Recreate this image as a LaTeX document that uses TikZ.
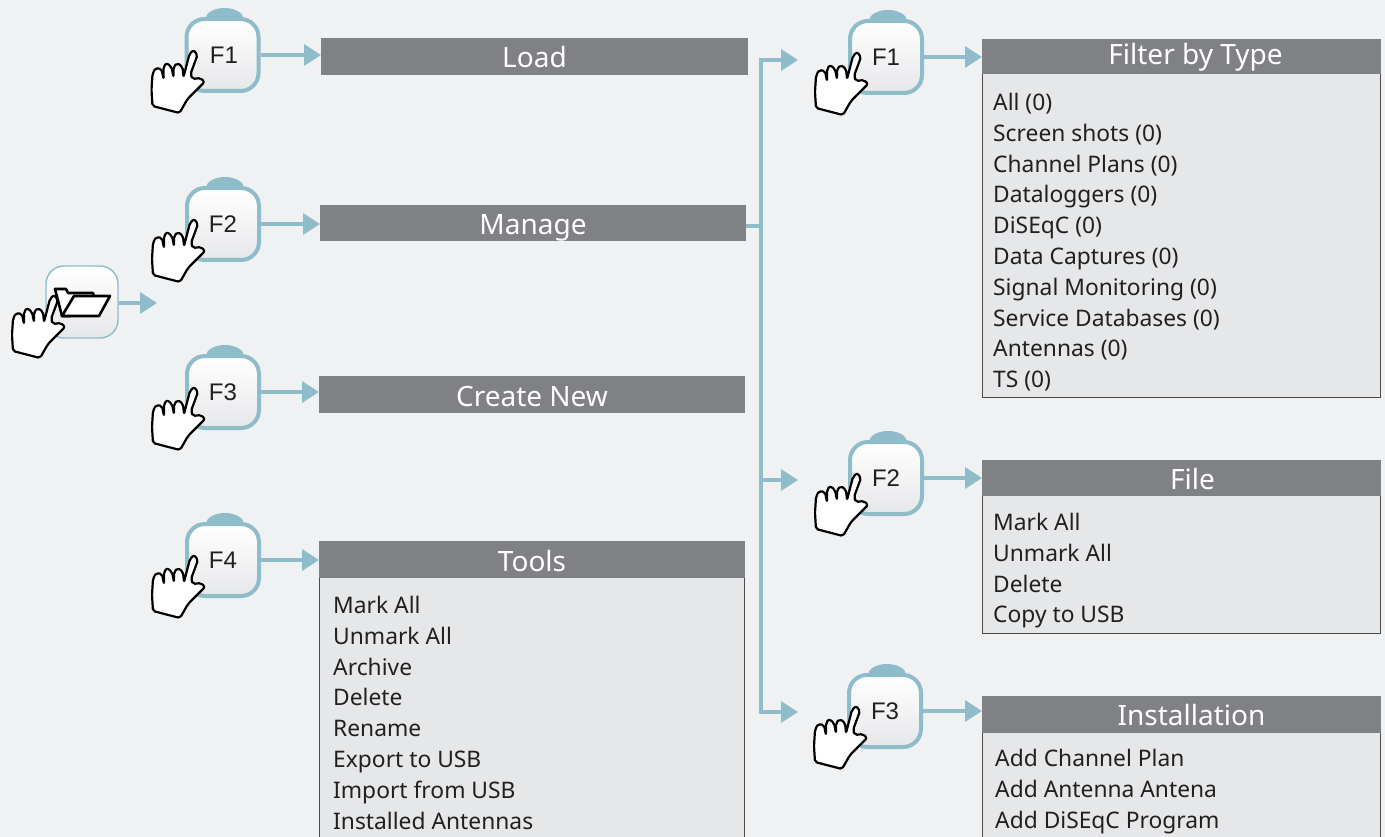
\documentclass[tikz,border=0pt]{standalone}
\usepackage{fontspec}
\setmainfont{Noto Sans}
\newfontfamily\keyfont{Liberation Sans}
\usetikzlibrary{arrows.meta}
\definecolor{flowc}{HTML}{8FBCCB}
\definecolor{pagec}{HTML}{F0F1F3}
\definecolor{barc}{HTML}{808184}
\definecolor{bodyc}{HTML}{E6E7E9}
\definecolor{inkc}{HTML}{231F20}
\tikzset{
  fkey/.style={draw=flowc, line width=4pt, rounded corners=18pt, top color=white, bottom color=bodyc,
    minimum width=72pt, minimum height=72pt, inner sep=0pt, text=inkc, font=\keyfont\fontsize{24}{26}\selectfont},
  flow/.style={draw=flowc, line width=3.5pt},
  flowtip/.style={flow, -{Triangle[length=17pt,width=21pt]}},
  headbar/.style={fill=barc, anchor=north west, inner sep=0pt, outer sep=0pt, text=white,
    text height=23pt, text depth=0pt, font=\fontsize{28}{30}\selectfont},
  listbody/.style={draw=black!70, line width=0.9pt, fill=bodyc, anchor=north west, inner sep=0pt, outer sep=0pt},
  listtext/.style={anchor=north west, inner sep=0pt, align=left, text=inkc,
    font=\fontsize{22.8}{30.8}\selectfont},
  hand/.pic={
    \draw[fill=white, draw=black, line width=2.2pt, line join=round, rounded corners=2pt]
      (-40,54) -- (-13,61) -- (-5,47) -- (5,37) -- (12,30) -- (8,26) -- (0,27) -- (-2,22) -- (5,3)
      -- (1,-2) -- (-3,2) -- (-9,25) -- (-10,15) -- (-15,11) -- (-19,15) -- (-19,25) -- (-21,15)
      -- (-26,11) -- (-29,15) -- (-29,27) -- (-31,17) -- (-37,16) -- (-40,22) -- (-41,38) -- cycle;
  }
}
\newcommand{\fkeyat}[4]{
  \fill[flowc] (#2,#3) ++(2,-36) ellipse [x radius=19pt, y radius=11pt];
  \node[fkey] (#1) at (#2,#3) {#4};
  \pic at ([xshift=8pt,yshift=3pt]#1.west) {hand};
}
\begin{document}
\begin{tikzpicture}[x=1pt,y=-1pt]
\useasboundingbox (0,0) rectangle (1385,837);
\clip (0,0) rectangle (1385,837);
\fill[pagec] (0,0) rectangle (1385,837);

% left column bars
\node[headbar, minimum width=427pt, minimum height=37pt] (loadBar) at (321,38) {Load};
\node[headbar, minimum width=426pt, minimum height=36pt] (manageBar) at (320,205) {Manage};
\node[headbar, minimum width=426pt, minimum height=37pt] (createBar) at (319,376) {Create New};
\node[listbody, minimum width=425pt, minimum height=310pt] (toolsBody) at (319.5,570) {};
\node[headbar, minimum width=426pt, minimum height=37pt] (toolsBar) at (319,541) {Tools};
\node[listtext] (toolsList) at (333,596) {Mark All\\Unmark All\\Archive\\Delete\\Rename\\Export to USB\\Import from USB\\Installed Antennas};

% right column bars
\node[listbody, minimum width=398pt, minimum height=327pt] (filterBody) at (982.5,70) {};
\node[headbar, minimum width=399pt, minimum height=35pt, text height=17pt] (filterBar) at (982,39) {\hspace*{28pt}Filter by Type};
\node[listtext] (filterList) at (993,93) {All (0)\\Screen shots (0)\\Channel Plans (0)\\Dataloggers (0)\\DiSEqC (0)\\Data Captures (0)\\Signal Monitoring (0)\\Service Databases (0)\\Antennas (0)\\TS (0)};
\node[listbody, minimum width=398pt, minimum height=143pt] (fileBody) at (982.5,490) {};
\node[headbar, minimum width=399pt, minimum height=36pt] (fileBar) at (982,460) {\hspace*{22pt}File};
\node[listtext] (fileList) at (993,513) {Mark All\\Unmark All\\Delete\\Copy to USB};
\node[listbody, minimum width=398pt, minimum height=130pt] (installBody) at (982.5,725) {};
\node[headbar, minimum width=399pt, minimum height=37pt, text height=21pt] (installBar) at (982,696) {\hspace*{20pt}Installation};
\node[listtext] (installList) at (995,749) {Add Channel Plan\\Add Antenna Antena\\Add DiSEqC Program};

% keys
\fkeyat{keyLoad}{222.5}{55}{\hspace*{3pt}F1}
\fkeyat{keyManage}{223}{224}{F2}
\fkeyat{keyCreate}{223}{392}{F3}
\fkeyat{keyTools}{223}{560}{F4}
\fkeyat{keyFilter}{886}{57}{F1}
\fkeyat{keyFile}{886}{478}{F2}
\fkeyat{keyInstall}{885}{711}{F3}

% folder button
\node[fkey, line width=1.4pt, minimum width=72pt, minimum height=72pt] (keyFolder) at (82,302) {};
\draw[fill=white, draw=black, line width=2.6pt, line join=round]
  (55,289) -- (66,289) -- (68,293) -- (93,293) -- (94,297) -- (70,316) -- (62,316) -- cycle;
\draw[fill=white, draw=black, line width=2.6pt, line join=round]
  (74,296) -- (110,296) -- (99,316) -- (62,316) -- cycle;
\pic at (53,297) {hand};

% connectors
\coordinate (folderEnd) at (157,303);
\coordinate (trunk) at (761,226);
\coordinate (toFilter) at (798,60);
\coordinate (toFile) at (798,480);
\coordinate (toInstall) at (798,712);
\draw[flowtip] (keyFolder.east |- folderEnd) -- (folderEnd);
\draw[flowtip] (keyLoad.east) -- (keyLoad.east -| loadBar.west);
\draw[flowtip] (keyManage.east) -- (keyManage.east -| manageBar.west);
\draw[flowtip] (keyCreate.east) -- (keyCreate.east -| createBar.west);
\draw[flowtip] (keyTools.east) -- (keyTools.east -| toolsBar.west);
\draw[flowtip] (keyFilter.east) -- (keyFilter.east -| filterBar.west);
\draw[flowtip] (keyFile.east) -- (keyFile.east -| fileBar.west);
\draw[flowtip] (keyInstall.east) -- (keyInstall.east -| installBar.west);
\draw[flow] (manageBar.east |- trunk) -- (trunk);
\draw[flowtip] (trunk) |- (toFilter);
\draw[flowtip] (trunk) |- (toFile);
\draw[flowtip] (trunk) |- (toInstall);
\end{tikzpicture}
\end{document}
